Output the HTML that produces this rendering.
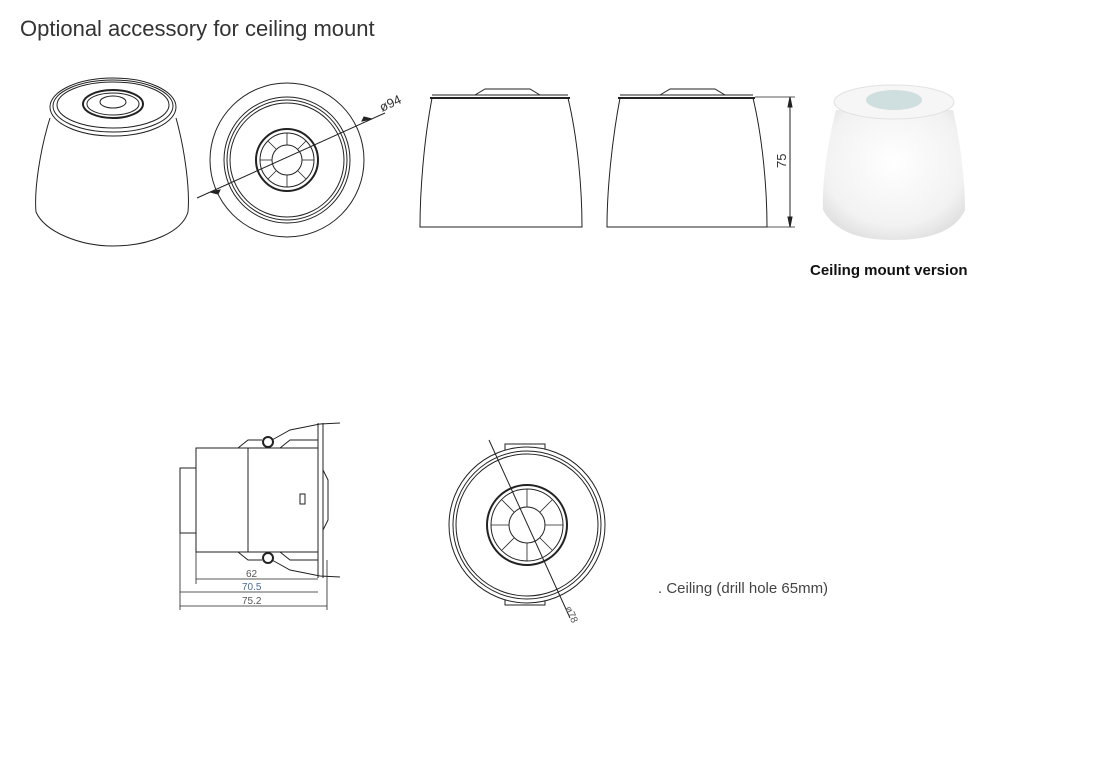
<!DOCTYPE html>
<html><head><meta charset="utf-8"><style>
html,body{margin:0;padding:0;background:#fff;}
body{width:1100px;height:782px;overflow:hidden;position:relative;font-family:"Liberation Sans",sans-serif;}
</style></head><body>
<svg width="1100" height="782" viewBox="0 0 1100 782" xmlns="http://www.w3.org/2000/svg" style="position:absolute;left:0;top:0">
<defs>
<radialGradient id="cup" cx="0.5" cy="0.4" r="0.7">
<stop offset="0" stop-color="#ffffff"/><stop offset="0.7" stop-color="#f2f2f2"/><stop offset="1" stop-color="#d8d8d8"/></radialGradient>
</defs>
<text x="20" y="36" font-size="22" fill="#333" font-family="Liberation Sans">Optional accessory for ceiling mount</text>
<g fill="none" stroke="#222" stroke-width="1">
<!-- view 1 -->
<path d="M50,118 C40,150 34,190 36,212 C45,232 80,246 113,246 C150,246 182,232 188,212 C190,190 185,150 176,118"/>
<ellipse cx="113" cy="107" rx="63" ry="29" fill="#fff"/>
<ellipse cx="113" cy="106" rx="60" ry="26"/>
<ellipse cx="113" cy="105" rx="56" ry="23"/>
<ellipse cx="113" cy="104" rx="30" ry="14" stroke-width="2"/>
<ellipse cx="113" cy="104" rx="26" ry="11"/>
<ellipse cx="113" cy="102" rx="13" ry="6"/>
<!-- view 2 -->
<circle cx="287" cy="160" r="77"/>
<circle cx="287" cy="160" r="63"/>
<circle cx="287" cy="160" r="60"/>
<circle cx="287" cy="160" r="57"/>
<circle cx="287" cy="160" r="31" stroke-width="2"/>
<circle cx="287" cy="160" r="27"/>
<circle cx="287" cy="160" r="15"/>
<g stroke-width="0.8">
<line x1="287" y1="133" x2="287" y2="145"/><line x1="287" y1="175" x2="287" y2="187"/>
<line x1="260" y1="160" x2="272" y2="160"/><line x1="302" y1="160" x2="314" y2="160"/>
<line x1="268" y1="141" x2="276" y2="149"/><line x1="298" y1="171" x2="306" y2="179"/>
<line x1="306" y1="141" x2="298" y2="149"/><line x1="276" y1="171" x2="268" y2="179"/>
</g>
<line x1="197" y1="198" x2="385" y2="113"/>
<path d="M210,192 l10,-2 l-2,4z M372,119 l-10,2 l2,-4z" fill="#222"/>
<!-- view 3 -->
<path d="M432,98 C424,140 420,190 420,227 L582,227 C582,190 578,140 568,98"/>
<line x1="430" y1="98" x2="570" y2="98" stroke-width="2"/>
<line x1="432" y1="95" x2="568" y2="95"/>
<path d="M475,95 L485,89 L530,89 L540,95"/>
<!-- view 4 -->
<path d="M620,98 C612,140 607,190 607,227 L767,227 C767,190 763,140 753,98"/>
<line x1="618" y1="98" x2="755" y2="98" stroke-width="2"/>
<line x1="620" y1="95" x2="753" y2="95"/>
<path d="M660,95 L670,89 L715,89 L725,95"/>
<line x1="755" y1="97" x2="795" y2="97" stroke-width="0.7"/>
<line x1="767" y1="227" x2="795" y2="227" stroke-width="0.7"/>
<line x1="790" y1="97" x2="790" y2="227"/>
<path d="M790,97 l-2,10 l4,0z M790,227 l-2,-10 l4,0z" fill="#222"/>
<!-- bottom left -->
<rect x="180" y="468" width="16" height="65"/>
<rect x="196" y="448" width="52" height="104"/>
<rect x="248" y="448" width="70" height="104"/>
<path d="M238,448 L248,440 L262,440 M280,448 L290,440 L318,440 M238,552 L248,560 L262,560 M280,552 L290,560 L318,560"/>
<path d="M272,440 L290,430 L320,424 L340,423 M272,560 L290,570 L320,576 L340,577"/>
<line x1="318" y1="423" x2="318" y2="578"/><line x1="323" y1="423" x2="323" y2="578"/>
<path d="M323,470 L328,480 L328,520 L323,530"/>
<circle cx="268" cy="442" r="5" stroke-width="2"/><circle cx="268" cy="558" r="5" stroke-width="2"/>
<rect x="300" y="494" width="5" height="10"/>
<g stroke-width="0.8">
<line x1="196" y1="552" x2="196" y2="584"/><line x1="180" y1="533" x2="180" y2="610"/><line x1="327" y1="560" x2="327" y2="610"/>
<line x1="196" y1="579" x2="318" y2="579"/><line x1="180" y1="592" x2="318" y2="592"/><line x1="180" y1="606" x2="327" y2="606"/>
</g>
<!-- bottom circle -->
<rect x="505" y="444" width="40" height="8"/>
<rect x="505" y="598" width="40" height="7"/>
<circle cx="527" cy="525" r="78" fill="#fff"/>
<circle cx="527" cy="525" r="74"/>
<circle cx="527" cy="525" r="71"/>
<circle cx="527" cy="525" r="40" stroke-width="2"/>
<circle cx="527" cy="525" r="36"/>
<circle cx="527" cy="525" r="18"/>
<g stroke-width="0.8">
<line x1="527" y1="489" x2="527" y2="507"/><line x1="527" y1="543" x2="527" y2="561"/>
<line x1="491" y1="525" x2="509" y2="525"/><line x1="545" y1="525" x2="563" y2="525"/>
<line x1="502" y1="500" x2="514" y2="512"/><line x1="540" y1="538" x2="552" y2="550"/>
<line x1="552" y1="500" x2="540" y2="512"/><line x1="514" y1="538" x2="502" y2="550"/>
</g>
<line x1="489" y1="440" x2="570" y2="618"/>
</g>
<g font-family="Liberation Sans" fill="#333">
<text transform="translate(382,112) rotate(-25)" font-size="13">ø94</text>
<text transform="translate(786,168) rotate(-90)" font-size="13">75</text>
<text x="246" y="577" font-size="10" fill="#555">62</text>
<text x="242" y="590" font-size="10" fill="#4a6c9a">70.5</text>
<text x="242" y="604" font-size="10" fill="#555">75.2</text>
<text transform="translate(565,608) rotate(65)" font-size="10" fill="#555">ø78</text>
<text x="810" y="275" font-size="15" fill="#111" font-weight="bold">Ceiling mount version</text>
<text x="658" y="593" font-size="15" fill="#444">.  Ceiling (drill hole 65mm)</text>
</g>
<!-- photo -->
<path d="M836,110 C826,150 822,185 823,210 C835,232 860,240 893,240 C928,240 955,232 965,210 C965,185 962,150 953,110 Z" fill="url(#cup)"/>
<ellipse cx="894" cy="102" rx="60" ry="17" fill="#f6f6f6" stroke="#e2e2e2"/>
<ellipse cx="894" cy="100" rx="28" ry="10" fill="#cfdede"/>
</svg>
</body></html>
